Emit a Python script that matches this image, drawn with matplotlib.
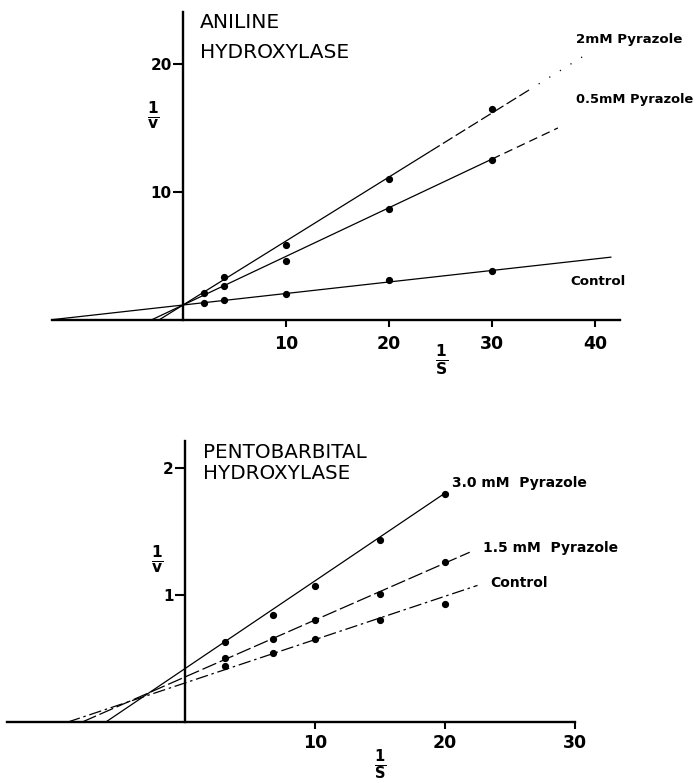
import matplotlib
matplotlib.use("Agg")
import matplotlib.pyplot as plt
import numpy as np

plt.rcParams['font.family'] = ['DejaVu Sans']

W, H = 698, 783

# ---------------- Data: Aniline hydroxylase ----------------
an_x = [2, 4, 10, 20, 30]
an_control = [1.33, 1.56, 2.03, 3.13, 3.83]
an_p05_x = [4, 10, 20, 30]
an_p05 = [2.66, 4.6, 8.67, 12.5]
an_p2 = [2.1, 3.36, 5.86, 11.0, 16.5]
# fitted Lineweaver-Burk lines (intercept, slope, right end)
an_fit_control = (1.17, 0.090, 41.6)
an_fit_p05 = (1.17, 0.38, 36.4)
an_fit_p2 = (1.17, 0.50, 39.5)

# ---------------- Data: Pentobarbital hydroxylase ----------------
pb_x = [3.1, 6.8, 10, 15, 20]
pb_control = [0.44, 0.54, 0.65, 0.80, 0.93]
pb_p15 = [0.50, 0.65, 0.80, 1.01, 1.26]
pb_p30 = [0.63, 0.84, 1.07, 1.43, 1.79]
pb_fit_control = (0.307, 0.0341, 22.5)
pb_fit_p15 = (0.354, 0.0448, 21.9)
pb_fit_p30 = (0.42, 0.069, 19.9)

an_xticks = [10, 20, 30, 40]
an_yticks = [10, 20]
pb_xticks = [10, 20, 30]
pb_yticks = [1, 2]

fig = plt.figure(figsize=(W / 100, H / 100), dpi=100)
fig.patch.set_facecolor('white')


def fx(x):
    return x / W


def fy(y):
    return 1 - y / H


def make_axes(l, r, t, b, xlim, ylim, xticks, yticks, xfs, yfs, xpad):
    ax = fig.add_axes([fx(l), fy(b), fx(r) - fx(l), fy(t) - fy(b)])
    ax.set_xlim(*xlim)
    ax.set_ylim(*ylim)
    for s in ['top', 'right']:
        ax.spines[s].set_visible(False)
    ax.spines['left'].set_position(('data', 0))
    ax.spines['bottom'].set_position(('data', 0))
    for s in ['left', 'bottom']:
        ax.spines[s].set_linewidth(1.7)
    ax.set_xticks(xticks)
    ax.set_yticks(yticks)
    ax.set_xticklabels([str(v) for v in xticks], fontsize=xfs, fontweight='bold')
    ax.set_yticklabels([str(v) for v in yticks], fontsize=yfs, fontweight='bold')
    ax.tick_params(axis='x', direction='out', length=5, width=1.5, pad=xpad)
    ax.tick_params(axis='y', direction='out', length=7, width=1.5, pad=1)
    ax.patch.set_alpha(0)
    return ax


def fit_line(ax, fit, segments):
    b, m, xend = fit
    x0 = -b / m
    pts = [x0] + [s[0] for s in segments[:-1]] + [xend]
    for i, (_, ls) in enumerate(segments):
        xs = np.array([pts[i], min(pts[i + 1], xend)])
        ax.plot(xs, b + m * xs, color='black', lw=0.9, linestyle=ls,
                solid_capstyle='butt', clip_on=True)


# ---------------- Top panel ----------------
ax1 = make_axes(52, 620, 12, 320, (-12.72, 42.43), (0, 24.06),
                an_xticks, an_yticks, 12.5, 11, 6)
fit_line(ax1, an_fit_control, [(41.6, '-')])
fit_line(ax1, an_fit_p05, [(30, '-'), (36.4, (0, (7, 4)))])
fit_line(ax1, an_fit_p2, [(24, '-'), (33.5, (0, (9, 3))), (39.5, (0, (1, 9)))])
ax1.plot(an_x, an_control, 'o', color='black', ms=4.2)
ax1.plot(an_p05_x, an_p05, 'o', color='black', ms=4.2)
ax1.plot(an_x, an_p2, 'o', color='black', ms=4.2)

fig.text(fx(200), fy(28), 'ANILINE', fontsize=14.6, va='baseline', ha='left')
fig.text(fx(200), fy(58), 'HYDROXYLASE', fontsize=14.6, va='baseline', ha='left')
fig.text(fx(576), fy(43), '2mM Pyrazole', fontsize=9.6, fontweight='bold', va='baseline', ha='left')
fig.text(fx(576), fy(103), '0.5mM Pyrazole', fontsize=9.4, fontweight='bold', va='baseline', ha='left')
fig.text(fx(570), fy(285), 'Control', fontsize=9.6, fontweight='bold', va='baseline', ha='left')
fig.text(fx(153), fy(116), r'$\frac{\mathbf{1}}{\mathbf{v}}$', fontsize=16, ha='center', va='center')
fig.text(fx(442), fy(360), r'$\frac{\mathbf{1}}{\mathbf{S}}$', fontsize=16, ha='center', va='center')

# ---------------- Bottom panel ----------------
ax2 = make_axes(7, 575, 441, 722, (-13.69, 30.0), (0, 2.21),
                pb_xticks, pb_yticks, 12.5, 11, 4)
fit_line(ax2, pb_fit_p30, [(19.9, '-')])
fit_line(ax2, pb_fit_p15, [(21.9, (0, (12, 3)))])
fit_line(ax2, pb_fit_control, [(22.5, (0, (10, 3, 2, 3)))])
ax2.plot(pb_x, pb_control, 'o', color='black', ms=4.2)
ax2.plot(pb_x, pb_p15, 'o', color='black', ms=4.2)
ax2.plot(pb_x, pb_p30, 'o', color='black', ms=4.2)

fig.text(fx(203), fy(458), 'PENTOBARBITAL', fontsize=14.3, va='baseline', ha='left')
fig.text(fx(203), fy(479), 'HYDROXYLASE', fontsize=14.3, va='baseline', ha='left')
fig.text(fx(452), fy(487), '3.0 mM  Pyrazole', fontsize=10, fontweight='bold', va='baseline', ha='left')
fig.text(fx(483), fy(552), '1.5 mM  Pyrazole', fontsize=10, fontweight='bold', va='baseline', ha='left')
fig.text(fx(490), fy(587), 'Control', fontsize=10, fontweight='bold', va='baseline', ha='left')
fig.text(fx(157), fy(560), r'$\frac{\mathbf{1}}{\mathbf{v}}$', fontsize=16, ha='center', va='center')
fig.text(fx(380), fy(765), r'$\frac{\mathbf{1}}{\mathbf{S}}$', fontsize=15, ha='center', va='center')

fig.savefig('out.png', dpi=100, facecolor='white')
